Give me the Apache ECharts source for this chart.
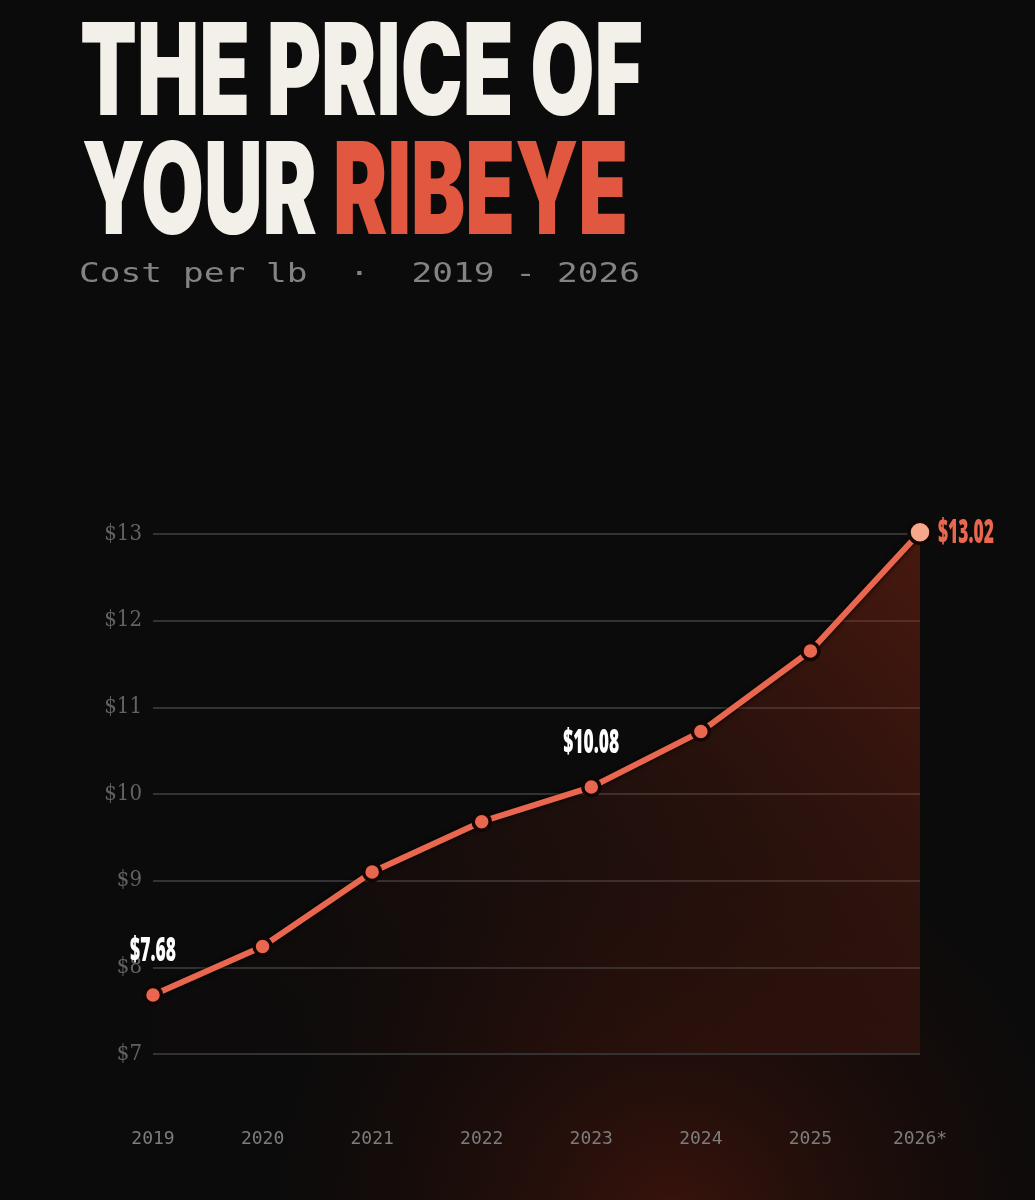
<!DOCTYPE html>
<html>
<head>
<meta charset="utf-8">
<script src="https://cdn.jsdelivr.net/npm/echarts@6/dist/echarts.min.js"></script>
<style>
  html, body { margin: 0; padding: 0; background: #0b0b0b; }
  #main { width: 1035px; height: 1200px; }
</style>
</head>
<body>
<div id="main"></div>
<script>
// 数据
var years = ['2019', '2020', '2021', '2022', '2023', '2024', '2025', '2026*'];
var prices = [7.68, 8.24, 9.10, 9.68, 10.08, 10.72, 11.65, 13.02];
var labelIdx = [0, 4, 7]; // 需要标注数值的点
var yTicks = [7, 8, 9, 10, 11, 12, 13];

var titleLine1 = 'THE PRICE OF';
var titleLine2a = 'YOUR ';
var titleLine2b = 'RIBEYE';
var subTitle = 'Cost per lb  \u00b7  2019 - 2026';

// 量一下文字宽度，用来做横向压缩
function textWidth(txt, font) {
    var ctx = document.createElement('canvas').getContext('2d');
    ctx.font = font;
    return ctx.measureText(txt).width;
}

var titleFont = '900 128px Inter';
var sx1 = 563 / textWidth(titleLine1, titleFont);
var sx2 = 546 / textWidth(titleLine2a + titleLine2b, titleFont);
var subFont = '300 27px "DejaVu Sans Mono"';
var sxSub = 561 / textWidth(subTitle, subFont);
var labelFont = '800 34px "Open Sans"';
var sxLabel = 56 / textWidth('$10.08', labelFont);

var myChart = echarts.init(document.getElementById('main'));

var lineData = prices.map(function (v, i) {
    if (i === prices.length - 1) {
        return {
            value: v,
            symbolSize: 22,
            itemStyle: { color: '#f5a98a', borderColor: '#120604', borderWidth: 3.5 }
        };
    }
    return v;
});

var labelData = labelIdx.map(function (i) { return [i, prices[i]]; });

var option = {
    backgroundColor: '#0b0b0b',
    graphic: [
        {
            type: 'rect',
            silent: true,
            z: -10,
            shape: { x: 0, y: 0, width: 1035, height: 1200 },
            style: {
                fill: new echarts.graphic.RadialGradient(0.65, 1.02, 0.45, [
                    { offset: 0, color: 'rgba(70,22,12,0.8)' },
                    { offset: 0.6, color: 'rgba(40,14,9,0.35)' },
                    { offset: 1, color: 'rgba(11,11,11,0)' }
                ])
            }
        },
        {
            type: 'text',
            x: 80,
            y: 77,
            scaleX: sx1,
            style: {
                text: titleLine1,
                font: titleFont,
                fill: '#f3f0ea',
                textAlign: 'left',
                textVerticalAlign: 'middle'
            }
        },
        {
            type: 'text',
            x: 82,
            y: 196,
            scaleX: sx2,
            style: {
                text: '{w|' + titleLine2a + '}{r|' + titleLine2b + '}',
                textAlign: 'left',
                textVerticalAlign: 'middle',
                rich: {
                    w: { font: titleFont, fill: '#f3f0ea' },
                    r: { font: titleFont, fill: '#e2573f' }
                }
            }
        },
        {
            type: 'text',
            x: 79,
            y: 275,
            scaleX: sxSub,
            style: {
                text: subTitle,
                font: subFont,
                fill: '#838383',
                textAlign: 'left',
                textVerticalAlign: 'middle'
            }
        }
    ],
    grid: {
        left: 153,
        right: 115,
        top: 534,
        bottom: 146
    },
    xAxis: {
        type: 'category',
        data: years,
        boundaryGap: false,
        axisLine: { show: false },
        axisTick: { show: false },
        axisLabel: {
            margin: 76,
            color: '#7d7d7d',
            fontSize: 18,
            fontFamily: 'DejaVu Sans Mono'
        },
        splitLine: { show: false }
    },
    yAxis: {
        type: 'value',
        min: yTicks[0],
        max: yTicks[yTicks.length - 1],
        interval: 1,
        axisLine: { show: false },
        axisTick: { show: false },
        axisLabel: {
            margin: 11,
            color: '#626262',
            fontSize: 22,
            fontFamily: 'DejaVu Serif Condensed',
            formatter: '${value}'
        },
        splitLine: {
            lineStyle: { color: '#333333', width: 2 }
        }
    },
    series: [
        {
            type: 'line',
            data: lineData,
            clip: false,
            symbol: 'circle',
            symbolSize: 17,
            itemStyle: {
                color: '#e8674e',
                borderColor: '#120604',
                borderWidth: 3.5
            },
            lineStyle: {
                color: '#e8674e',
                width: 6,
                shadowColor: 'rgba(0,0,0,0.95)',
                shadowBlur: 5
            },
            areaStyle: {
                color: new echarts.graphic.LinearGradient(1, 0, 0.2, 1, [
                    { offset: 0, color: 'rgba(150,42,20,0.62)' },
                    { offset: 0.55, color: 'rgba(100,30,15,0.3)' },
                    { offset: 1, color: 'rgba(60,18,10,0.08)' }
                ])
            },
            z: 3
        },
        {
            // 数值标注，用自定义系列方便做横向压缩
            type: 'custom',
            data: labelData,
            z: 5,
            renderItem: function (params, api) {
                var idx = api.value(0);
                var val = api.value(1);
                var p = api.coord([idx, val]);
                var last = idx === prices.length - 1;
                return {
                    type: 'text',
                    x: last ? p[0] + 18 : p[0],
                    y: last ? p[1] + 1 : p[1] - 44,
                    scaleX: sxLabel,
                    style: {
                        text: '$' + val.toFixed(2),
                        font: labelFont,
                        fill: last ? '#e8674e' : '#ffffff',
                        textAlign: last ? 'left' : 'center',
                        textVerticalAlign: 'middle'
                    }
                };
            }
        }
    ]
};
myChart.setOption(option);
</script>
</body>
</html>
